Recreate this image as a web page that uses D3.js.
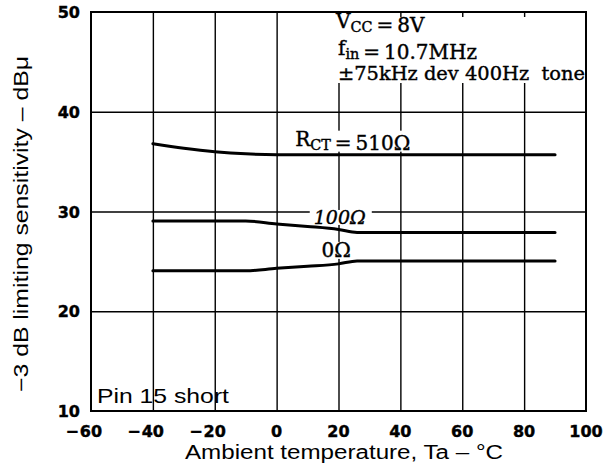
<!DOCTYPE html>
<html><head><meta charset="utf-8">
<script src="https://cdn.jsdelivr.net/npm/d3@7"></script>
<style>html,body{margin:0;padding:0;background:#fff;}svg{display:block;}</style>
</head><body>
<svg id="c" width="603" height="463"></svg>
<script>
const xTicks = [-60,-40,-20,0,20,40,60,80,100];
const yTicks = [10,20,30,40,50];
const temp510 = [-40,-30,-20,-10,0,10,20,40,60,80,90];
const sens510 = [36.8,36.35,36.0,35.78,35.7,35.7,35.7,35.7,35.7,35.7,35.7];
const temp100 = [-40,-20,-10,0,10,20,26,40,60,80,90];
const sens100 = [29.05,29.05,29.05,28.75,28.5,28.2,27.9,27.9,27.9,27.9,27.9];
const temp0 = [-40,-20,-10,0,10,20,26,40,60,80,90];
const sens0 = [24.05,24.05,24.05,24.3,24.5,24.75,25.05,25.05,25.05,25.05,25.05];
const xTitle = "Ambient temperature, Ta – °C";
const yTitle = "−3 dB limiting sensitivity – dBμ";
const noteText = "Pin 15 short";

const svg = d3.select("#c");
const x = d3.scaleLinear().domain([-60,100]).range([91,586]);
const y = d3.scaleLinear().domain([10,50]).range([411,12]);

const grid = svg.append("g");
grid.append("g").attr("transform",`translate(0,${y(10)})`)
  .call(d3.axisBottom(x).tickValues(xTicks.slice(1,-1)).tickSize(-(y(10)-y(50))).tickFormat(""))
  .call(g=>g.select(".domain").remove())
  .selectAll("line").attr("stroke","#000").attr("stroke-width",1.4);
grid.append("g").attr("transform",`translate(${x(-60)},0)`)
  .call(d3.axisLeft(y).tickValues(yTicks.slice(1,-1)).tickSize(-(x(100)-x(-60))).tickFormat(""))
  .call(g=>g.select(".domain").remove())
  .selectAll("line").attr("stroke","#000").attr("stroke-width",1.4);

const series = [[temp510,sens510],[temp100,sens100],[temp0,sens0]];
const line = d3.line().x(d=>x(d[0])).y(d=>y(d[1])).curve(d3.curveMonotoneX);
svg.append("g").selectAll("path").data(series).join("path")
  .attr("d",s=>line(s[0].map((t,i)=>[t,s[1][i]])))
  .attr("fill","none").attr("stroke","#000").attr("stroke-width",3).attr("stroke-linecap","round");

svg.append("rect").attr("x",x(-60)).attr("y",y(50)).attr("width",x(100)-x(-60)).attr("height",y(10)-y(50))
  .attr("fill","none").attr("stroke","#000").attr("stroke-width",2);

const tickFont = "'DejaVu Sans', sans-serif";
const xl = svg.append("g").attr("font-family",tickFont).attr("font-weight","bold").attr("font-size",16)
  .attr("stroke","#000").attr("stroke-width",0.4);
xTicks.forEach(t=>{
  const txt = xl.append("text").attr("x",x(t)).attr("y",437).attr("text-anchor","middle").text(Math.abs(t));
  if(t<0){
    const w = txt.node().getBBox().width;
    xl.append("text").attr("x",x(t)-w/2-1).attr("y",437).attr("text-anchor","end").text("−");
  }
});
svg.append("g").attr("font-family",tickFont).attr("font-weight","bold").attr("font-size",16)
  .attr("stroke","#000").attr("stroke-width",0.4)
  .selectAll("text").data(yTicks).join("text")
  .attr("x",80).attr("y",d=>y(d)+6).attr("text-anchor","end").text(d=>d);

const sans = "'Liberation Sans', Arial, sans-serif";
svg.append("text").attr("x",344).attr("y",459).attr("text-anchor","middle")
  .attr("font-family",sans).attr("font-size",20).attr("textLength",318).attr("lengthAdjust","spacingAndGlyphs").text(xTitle);
svg.append("text").attr("transform","translate(28,224) rotate(-90)").attr("text-anchor","middle")
  .attr("font-family",sans).attr("font-size",20).attr("textLength",336).attr("lengthAdjust","spacingAndGlyphs").text(yTitle);
svg.append("text").attr("x",97).attr("y",403)
  .attr("font-family",sans).attr("font-size",21).attr("textLength",132).attr("lengthAdjust","spacingAndGlyphs").text(noteText);

const serif = "'DejaVu Serif', 'Liberation Serif', serif";
function label(g, xx, yy, parts, opts={}){
  const size = opts.size||20;
  const t = g.append("text").attr("x",xx).attr("y",yy).attr("font-family",serif)
    .attr("font-size",size).attr("font-style",opts.italic?"italic":"normal")
    .attr("stroke","#000").attr("stroke-width",0.4);
  parts.forEach(p=>{
    if(p.sub){ t.append("tspan").attr("dy",4).attr("font-size",size*0.72).text(p.sub);
               t.append("tspan").attr("dy",-4).text(""); }
    else t.append("tspan").text(p.t);
  });
  return t;
}
function bg(t, pl, pr, pt, pb){
  const b = t.node().getBBox();
  const r = document.createElementNS("http://www.w3.org/2000/svg","rect");
  t.node().parentNode.insertBefore(r, t.node());
  d3.select(r).attr("x",b.x-pl).attr("y",b.y+pt).attr("width",b.width+pl+pr).attr("height",b.height-pt+pb).attr("fill","#fff");
}
const ann = svg.append("g");
ann.append("rect").attr("x",334).attr("y",17).attr("width",250).attr("height",66).attr("fill","#fff");
label(ann, 336, 28, [{t:"V"},{sub:"CC"},{t:"\u2009=\u20098V"}]);
label(ann, 338, 55, [{t:"f"},{sub:"in"},{t:"\u2009=\u200910.7MHz"}]);
label(ann, 338, 80, [{t:"±75kHz dev 400Hz\u00a0 tone"}], {size:19.4});

const l4 = label(ann, x(6), y(36.6), [{t:"R"},{sub:"CT"},{t:"\u2009=\u2009510Ω"}]);
bg(l4,2,2,4,-3);
const l5 = label(ann, x(12), y(28.75), [{t:"100Ω"}], {italic:true, size:19});
bg(l5,4,6,4,-3);
const l6 = label(ann, x(14.5), y(25.45), [{t:"0Ω"}]);
bg(l6,2,2,4,-3);
</script>
</body></html>
